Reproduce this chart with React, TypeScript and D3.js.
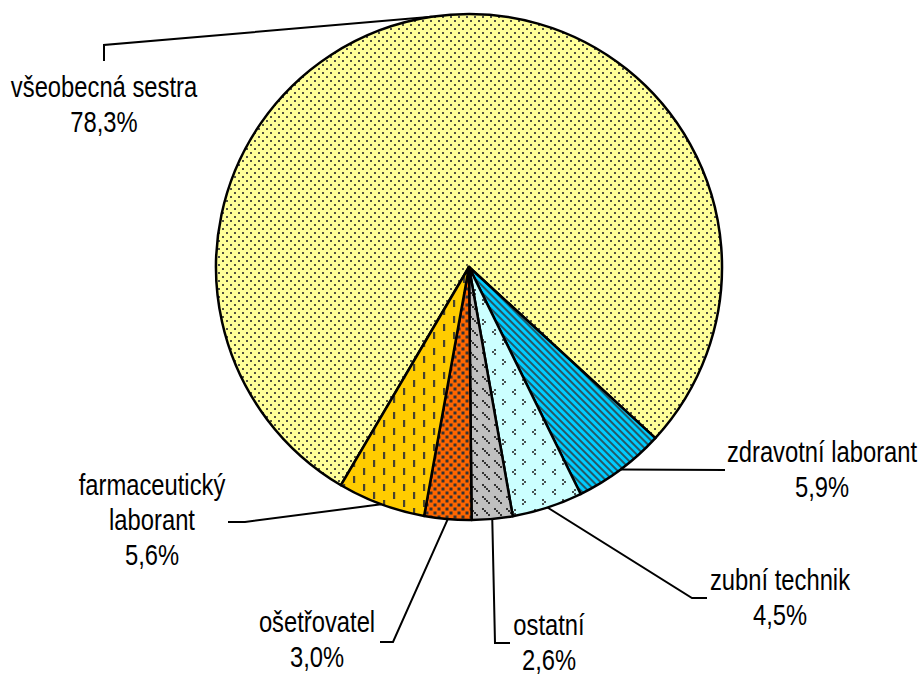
import React from "react";
import * as d3 from "d3";

const categories = [
  "všeobecná sestra",
  "zdravotní laborant",
  "zubní technik",
  "ostatní",
  "ošetřovatel",
  "farmaceutický laborant",
];
const values = [78.3, 5.9, 4.5, 2.6, 3.0, 5.6];
const valueLabels = ["78,3%", "5,9%", "4,5%", "2,6%", "3,0%", "5,6%"];
const labelLines = [
  ["všeobecná sestra", "78,3%"],
  ["zdravotní laborant", "5,9%"],
  ["zubní technik", "4,5%"],
  ["ostatní", "2,6%"],
  ["ošetřovatel", "3,0%"],
  ["farmaceutický", "laborant", "5,6%"],
];

const W = 922;
const H = 675;
const CX = 469;
const CY = 267;
const R = 253;
const START = (-149.6 * Math.PI) / 180;

const labelLayout = [
  { x: 104, y: 97, elbow: [104, 45], end: [104, 61] },
  { x: 822, y: 462, elbow: [725, 470], end: [725, 470] },
  { x: 780, y: 590, elbow: [692, 598], end: [707, 598] },
  { x: 549, y: 635, elbow: [495, 643], end: [510, 643] },
  { x: 317, y: 632, elbow: [393, 642], end: [380, 642] },
  { x: 152, y: 495, elbow: [245, 522], end: [228, 522] },
];
const LINE_STEP = 35;
const fills = ["url(#pYellow)", "url(#pBlue)", "url(#pCyan)", "url(#pGray)", "url(#pOrange)", "url(#pGold)"];
const FONT = "'Liberation Sans', Arial, sans-serif";
const SX = 0.82;

export default function App() {
  const pie = d3
    .pie<number>()
    .sort(null)
    .value((d) => d)
    .startAngle(START)
    .endAngle(START + 2 * Math.PI);
  const arcs = pie(values);
  const arc = d3.arc<d3.PieArcDatum<number>>().innerRadius(0).outerRadius(R);
  const dark = "#333333";

  return (
    <svg width={W} height={H} style={{ position: "absolute", left: 0, top: 0, background: "#fff" }}>
      <defs>
        <pattern id="pYellow" width="8" height="8" patternUnits="userSpaceOnUse">
          <rect width="8" height="8" fill="#FFFF99" />
          <rect x="1" y="1" width="2" height="2" fill={dark} opacity="0.85" />
          <rect x="5" y="5" width="2" height="2" fill={dark} opacity="0.85" />
        </pattern>
        <pattern id="pBlue" width="5" height="5" patternUnits="userSpaceOnUse" patternTransform="rotate(-45)">
          <rect width="5" height="5" fill="#00CCFF" />
          <rect x="0" y="0" width="2" height="5" fill={dark} opacity="0.75" />
        </pattern>
        <pattern id="pCyan" width="20" height="20" patternUnits="userSpaceOnUse">
          <rect width="20" height="20" fill="#CCFFFF" />
          <g fill={dark} opacity="0.85">
            <rect x="5" y="2" width="2" height="2" />
            <rect x="3" y="4" width="2" height="2" />
            <rect x="5" y="6" width="2" height="2" />
            <rect x="13" y="12" width="2" height="2" />
            <rect x="15" y="14" width="2" height="2" />
            <rect x="13" y="16" width="2" height="2" />
          </g>
        </pattern>
        <pattern id="pGray" width="12" height="12" patternUnits="userSpaceOnUse">
          <rect width="12" height="12" fill="#C0C0C0" />
          <g fill={dark}>
            <rect x="1" y="1" width="2" height="2" />
            <rect x="3" y="3" width="2" height="2" />
            <rect x="5" y="5" width="2" height="2" />
            <rect x="7" y="7" width="2" height="2" />
          </g>
        </pattern>
        <pattern id="pOrange" width="8" height="8" patternUnits="userSpaceOnUse">
          <rect width="8" height="8" fill="#FF6600" />
          <rect x="0.5" y="0.5" width="3" height="3" fill={dark} />
          <rect x="4.5" y="4.5" width="3" height="3" fill={dark} />
        </pattern>
        <pattern id="pGold" width="20" height="16" patternUnits="userSpaceOnUse">
          <rect width="20" height="16" fill="#FFCC00" />
          <rect x="4" y="1" width="2.2" height="7" fill={dark} opacity="0.9" />
          <rect x="14" y="9" width="2.2" height="7" fill={dark} opacity="0.9" />
        </pattern>
      </defs>
      <g transform={`translate(${CX},${CY})`}>
        {arcs.map((a, i) => (
          <path key={categories[i]} d={arc(a) || ""} fill={fills[i]} stroke="#000" strokeWidth={2.5} strokeLinejoin="round" />
        ))}
      </g>
      <g fill="none" stroke="#000" strokeWidth={2}>
        {arcs.map((a, i) => {
          const m = (a.startAngle + a.endAngle) / 2;
          const px = CX + R * Math.sin(m);
          const py = CY - R * Math.cos(m);
          const L = labelLayout[i];
          return (
            <polyline
              key={"l" + i}
              points={`${px},${py} ${L.elbow[0]},${L.elbow[1]} ${L.end[0]},${L.end[1]}`}
            />
          );
        })}
      </g>
      <g fontFamily={FONT} fontSize={29} fill="#000" textAnchor="middle">
        {labelLines.map((lines, i) => (
          <g key={"t" + i} transform={`translate(${labelLayout[i].x},${labelLayout[i].y}) scale(${SX},1)`}>
            <text x={0} y={0}>
              {lines.map((s, j) => (
                <tspan key={j} x={0} y={j * LINE_STEP}>
                  {j === lines.length - 1 ? valueLabels[i] : s}
                </tspan>
              ))}
            </text>
          </g>
        ))}
      </g>
    </svg>
  );
}
